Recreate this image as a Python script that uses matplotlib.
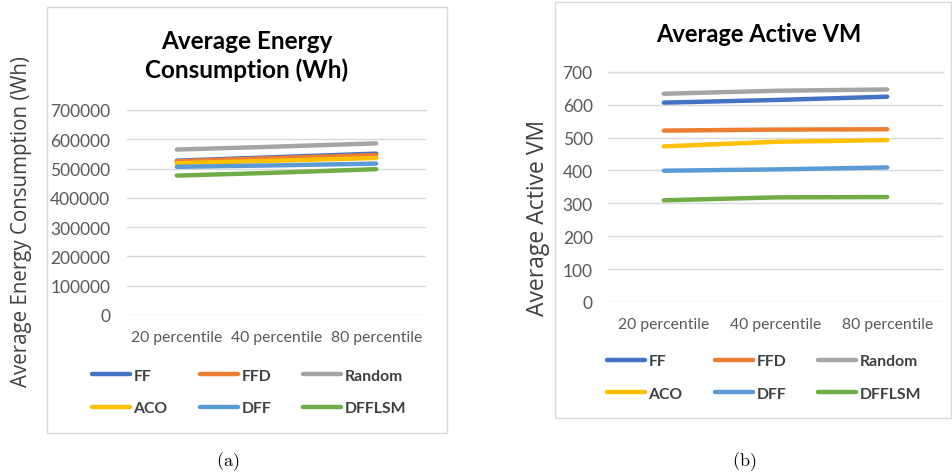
import matplotlib
matplotlib.use("Agg")
import matplotlib.pyplot as plt
from matplotlib.lines import Line2D
from matplotlib.patches import Rectangle

# data
categories = ["20 percentile", "40 percentile", "80 percentile"]
algorithms = ["FF", "FFD", "Random", "ACO", "DFF", "DFFLSM"]
colors = ["#4472C4", "#ED7D31", "#A5A5A5", "#FFC000", "#5B9BD5", "#70AD47"]

energy_ff = [527000, 539000, 551000]
energy_ffd = [525000, 536000, 546000]
energy_random = [565000, 575000, 586000]
energy_aco = [518000, 527000, 536000]
energy_dff = [506000, 511000, 517000]
energy_dfflsm = [476000, 486000, 498000]

vm_ff = [606, 614, 624]
vm_ffd = [521, 524, 525]
vm_random = [633, 642, 646]
vm_aco = [473, 487, 492]
vm_dff = [399, 403, 409]
vm_dfflsm = [309, 318, 319]

energy_ticks = [0, 100000, 200000, 300000, 400000, 500000, 600000, 700000]
vm_ticks = [0, 100, 200, 300, 400, 500, 600, 700]

W, H = 952, 477
FONT = "Lato"
TICK_COLOR = "#595959"
GRID_COLOR = "#D9D9D9"

plt.rcParams["mathtext.fontset"] = "cm"


def px(x, y, w, h):
    """pixel box (top-left origin) -> figure fraction rect"""
    return [x / W, 1 - (y + h) / H, w / W, h / H]


def draw_panel(fig, box, ax_rect, series, ticks, ylabel, ylabel_xy, ylabel_size,
               title_lines, title_xy, title_size, legend_xy, tick_pad):
    fig.patches.append(Rectangle((box[0], box[1]), box[2], box[3],
                                 transform=fig.transFigure, fill=False,
                                 edgecolor=GRID_COLOR, linewidth=1.0))
    ax = fig.add_axes(ax_rect)
    x = list(range(len(categories)))
    for name, vals, c in zip(algorithms, series, colors):
        ax.plot(x, vals, color=c, linewidth=3.2, solid_capstyle="round", label=name, zorder=3)
    ax.set_xlim(-0.5, 2.5)
    ax.set_ylim(ticks[0], ticks[-1])
    ax.set_yticks(ticks)
    ax.set_yticklabels([str(t) for t in ticks], fontfamily=FONT, fontsize=12.5, color=TICK_COLOR)
    ax.set_xticks(x)
    ax.set_xticklabels(categories, fontfamily=FONT, fontsize=11.3, color=TICK_COLOR)
    ax.tick_params(axis="both", length=0)
    ax.tick_params(axis="y", pad=tick_pad)
    ax.tick_params(axis="x", pad=11)
    ax.grid(axis="y", color=GRID_COLOR, linewidth=1.0, zorder=0)
    for s in ax.spines.values():
        s.set_visible(False)
    ax.set_facecolor("none")
    # the top gridline sits on the axes edge
    ax.axhline(ticks[-1], color=GRID_COLOR, linewidth=1.0, zorder=0, clip_on=False)

    fig.text(ylabel_xy[0] / W, 1 - ylabel_xy[1] / H, ylabel, rotation=90,
             ha="center", va="center", fontfamily="Open Sans", fontsize=ylabel_size,
             color="#404040")
    fig.text(title_xy[0] / W, 1 - title_xy[1] / H, "\n".join(title_lines),
             ha="center", va="center", fontfamily=FONT, fontweight="bold",
             fontsize=title_size, color="#000000", linespacing=1.25)

    # legend fills column by column, so reorder to read FF FFD Random / ACO DFF DFFLSM
    order = [0, 3, 1, 4, 2, 5]
    handles = [Line2D([], [], color=colors[i], linewidth=3.2, solid_capstyle="round") for i in order]
    labels = [algorithms[i] for i in order]
    leg = fig.legend(handles, labels, loc="center left",
                     bbox_to_anchor=(legend_xy[0] / W, 1 - legend_xy[1] / H),
                     ncol=3, frameon=False, borderpad=0, borderaxespad=0,
                     handlelength=2.4, handletextpad=0.25, columnspacing=2.05,
                     labelspacing=1.15,
                     prop={"family": FONT, "weight": "bold", "size": 11.3})
    for t in leg.get_texts():
        t.set_color("#404040")
    return ax


fig = plt.figure(figsize=(W / 100, H / 100), dpi=100)

draw_panel(fig,
           box=px(46.7, 8, 400.3, 426),
           ax_rect=px(127, 111, 299, 205),
           series=[energy_ff, energy_ffd, energy_random, energy_aco, energy_dff, energy_dfflsm],
           ticks=energy_ticks,
           ylabel="Average Energy Consumption (Wh)",
           ylabel_xy=(22, 222),
           ylabel_size=14.8,
           title_lines=["Average Energy", "Consumption (Wh)"],
           title_xy=(247, 56),
           title_size=17.5,
           legend_xy=(92, 393),
           tick_pad=12)

draw_panel(fig,
           box=px(555, 3.3, 396, 416),
           ax_rect=px(608, 72.7, 335, 230.3),
           series=[vm_ff, vm_ffd, vm_random, vm_aco, vm_dff, vm_dfflsm],
           ticks=vm_ticks,
           ylabel="Average Active VM",
           ylabel_xy=(538, 218),
           ylabel_size=16.5,
           title_lines=["Average Active VM"],
           title_xy=(759, 35),
           title_size=17,
           legend_xy=(607, 378.5),
           tick_pad=11)

fig.text(228 / W, 1 - 462 / H, r"$\mathrm{(a)}$", ha="center", va="center", fontsize=13)
fig.text(744 / W, 1 - 462 / H, r"$\mathrm{(b)}$", ha="center", va="center", fontsize=13)

fig.savefig("out.png", dpi=100, facecolor="white")
